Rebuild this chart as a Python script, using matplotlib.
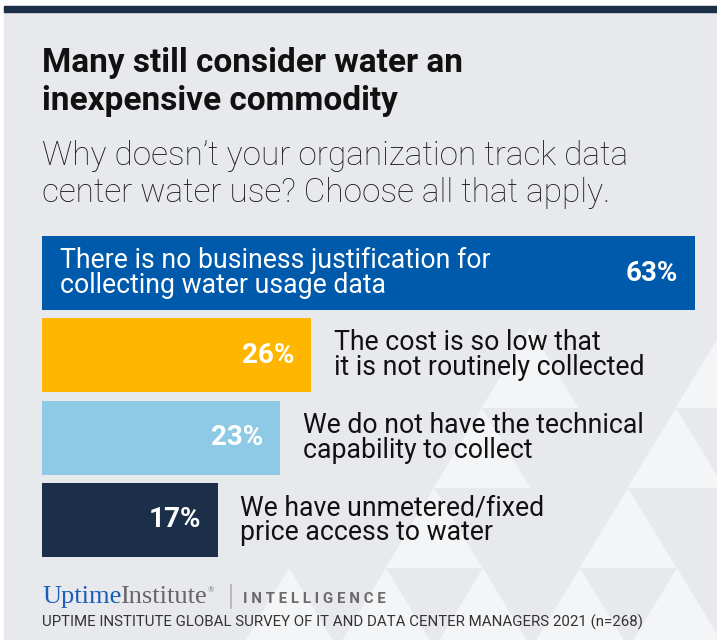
import matplotlib
matplotlib.use("Agg")
import matplotlib.pyplot as plt
from matplotlib.patches import Polygon, Rectangle

# ---- data ----
categories = [
    "There is no business justification for\ncollecting water usage data",
    "The cost is so low that\nit is not routinely collected",
    "We do not have the technical\ncapability to collect",
    "We have unmetered/fixed\nprice access to water",
]
values = [63, 26, 23, 17]
bar_colors = ["#005aab", "#ffb600", "#8ecae6", "#1b3048"]
label_inside = [True, False, False, False]

title_lines = ["Many still consider water an", "inexpensive commodity"]
subtitle_lines = ["Why doesn\u2019t your organization track data",
                  "center water use? Choose all that apply."]
source = "UPTIME INSTITUTE GLOBAL SURVEY OF IT AND DATA CENTER MANAGERS 2021 (n=268)"

W, H = 717, 640
BG = "#e8e9ed"
fig = plt.figure(figsize=(W / 100, H / 100), dpi=100)
fig.patch.set_facecolor("white")

# background axes in pixel coordinates
bg = fig.add_axes([0, 0, 1, 1])
bg.set_xlim(0, W)
bg.set_ylim(H, 0)
bg.axis("off")
bg.add_patch(Rectangle((4, 6), W - 4, H - 6, color=BG, zorder=0))
bg.add_patch(Rectangle((4, 6), W - 4, 6, color="#1c2f46", zorder=1))

# decorative triangle lattice (lower right)
tw, th = 97, 80
light = "#f4f5f7"
for r in range(4):
    y0 = 328 + th * r
    for k in range(-1, 5):
        cx = 530 - 48 * r + tw * k
        lit = (k % 2 == 0 and k >= 0) or r == 3
        if lit:
            bg.add_patch(Polygon([(cx - tw / 2, y0 + th), (cx + tw / 2, y0 + th), (cx, y0)],
                                 closed=True, color=light, lw=0, zorder=0.5))

# title + subtitle
for i, line in enumerate(title_lines):
    bg.text(42, 72 + 38 * i, line, fontsize=24, fontweight="bold", family="Roboto",
            color="#111111", va="baseline", ha="left")
for i, line in enumerate(subtitle_lines):
    bg.text(42, 165 + 37 * i, line, fontsize=24, fontweight="light", family="Roboto",
            color="#1a1a1a", va="baseline", ha="left")

# bar chart axes
x_left, x_right = 42, 695
y_top, y_bot = 236, 557
ax = fig.add_axes([x_left / W, 1 - y_bot / H, (x_right - x_left) / W, (y_bot - y_top) / H])
ax.set_facecolor("none")
n = len(values)
ypos = list(range(n))
ax.barh(ypos, values, height=0.9, color=bar_colors, zorder=2)
ax.set_xlim(0, max(values))
ax.set_ylim(n - 1 + 0.45, -0.45)
ax.axis("off")

for i, (v, lab, inside) in enumerate(zip(values, categories, label_inside)):
    ax.annotate(f"{v}%", xy=(v, i), xytext=(-12.5, 0), textcoords="offset points",
                ha="right", va="center", fontsize=20, fontweight="bold",
                family="Roboto", color="white", zorder=3)
    if inside:
        ax.annotate(lab, xy=(0, i), xytext=(13, 0), textcoords="offset points",
                    ha="left", va="center", fontsize=19.2, family="Roboto",
                    color="white", linespacing=0.9, zorder=3)
    else:
        ax.annotate(lab, xy=(v, i), xytext=(16, 0), textcoords="offset points",
                    ha="left", va="center", fontsize=19.2, family="Roboto",
                    color="#111111", linespacing=0.9, zorder=3)

# footer logo
t1 = bg.text(42, 603, "Uptime", fontsize=19, family="Liberation Serif",
             color="#1a5db5", va="baseline", ha="left")
fig.canvas.draw()
bb = t1.get_window_extent()
t2 = bg.annotate("Institute", xy=(bb.x1 - 1, H - 603), xycoords="figure pixels",
                 fontsize=19, family="Liberation Serif", color="#666666",
                 va="baseline", ha="left")
fig.canvas.draw()
bb2 = t2.get_window_extent()
bg.annotate("\u00ae", xy=(bb2.x1 + 1, H - 592), xycoords="figure pixels",
            fontsize=6, family="Liberation Serif", color="#666666",
            va="baseline", ha="left")
bg.plot([231, 231], [585, 608], color="#b0b0b0", lw=1.2)
bg.text(243, 603, "I N T E L L I G E N C E", fontsize=10.8, fontweight="bold",
        family="Roboto", color="#6b6b6b", va="baseline", ha="left")

bg.text(42, 627, source, fontsize=10.8, family="Roboto", color="#333333",
        va="baseline", ha="left")

fig.savefig("out.png", dpi=100, facecolor=fig.get_facecolor())
